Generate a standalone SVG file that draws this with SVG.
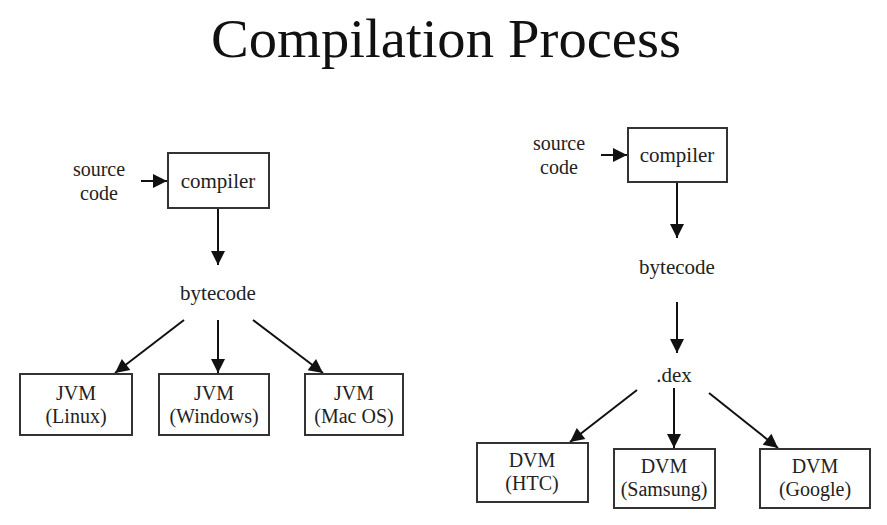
<svg xmlns="http://www.w3.org/2000/svg" width="887" height="525" viewBox="0 0 887 525">
<defs>
<marker id="ahb" viewBox="0 0 10 10" refX="10" refY="5" markerWidth="16" markerHeight="14" markerUnits="userSpaceOnUse" orient="auto">
<path d="M0,0 L10,5 L0,10 Z" fill="#111"/>
</marker>
</defs>
<style>
text{font-family:'Liberation Serif','Times New Roman','DejaVu Serif',serif}
.t{font-size:20px;fill:#222;text-anchor:middle}
.m{font-size:21px}
.box{fill:#fff;stroke:#333;stroke-width:2}
.c{stroke:#111;stroke-width:2;fill:none;marker-end:url(#ahb)}
.title{font-size:54px;fill:#111;text-anchor:middle}
</style>
<rect width="887" height="525" fill="#fff"/>
<text class="title" x="446" y="57" textLength="470" lengthAdjust="spacingAndGlyphs">Compilation Process</text>

<g id="connectors">
<line class="c" x1="141" y1="181" x2="167" y2="181"/>
<line class="c" x1="218" y1="208" x2="218" y2="265"/>
<line class="c" x1="184" y1="320" x2="115" y2="373"/>
<line class="c" x1="218" y1="320" x2="218" y2="373"/>
<line class="c" x1="253" y1="320" x2="323" y2="373"/>
<line class="c" x1="601" y1="155" x2="627" y2="155"/>
<line class="c" x1="677" y1="183" x2="677" y2="238"/>
<line class="c" x1="677" y1="302" x2="677" y2="353"/>
<line class="c" x1="637" y1="390" x2="570" y2="442"/>
<line class="c" x1="674" y1="388" x2="674" y2="448"/>
<line class="c" x1="709" y1="393" x2="778" y2="448"/>
</g>

<g id="src1"><text class="t" x="99" y="176">source</text><text class="t" x="99" y="200">code</text></g>
<g id="compiler1"><rect class="box" x="168" y="153" width="101" height="55"/><text class="t m" x="218" y="188">compiler</text></g>
<g id="bytecode1"><text class="t m" x="218" y="300">bytecode</text></g>
<g id="jvm-linux"><rect class="box" x="20" y="374" width="112" height="61"/><text class="t" x="76" y="400">JVM</text><text class="t" x="76" y="423">(Linux)</text></g>
<g id="jvm-windows"><rect class="box" x="159" y="374" width="110" height="61"/><text class="t" x="214" y="400">JVM</text><text class="t" x="214" y="423">(Windows)</text></g>
<g id="jvm-mac"><rect class="box" x="305" y="374" width="98" height="61"/><text class="t" x="354" y="400">JVM</text><text class="t" x="354" y="423">(Mac OS)</text></g>

<g id="src2"><text class="t" x="559" y="150">source</text><text class="t" x="559" y="174">code</text></g>
<g id="compiler2"><rect class="box" x="628" y="128" width="99" height="54"/><text class="t m" x="677" y="162">compiler</text></g>
<g id="bytecode2"><text class="t m" x="677" y="274">bytecode</text></g>
<g id="dex"><text class="t m" x="674" y="382">.dex</text></g>
<g id="dvm-htc"><rect class="box" x="477" y="443" width="111" height="59"/><text class="t" x="532" y="467">DVM</text><text class="t" x="532" y="490">(HTC)</text></g>
<g id="dvm-samsung"><rect class="box" x="614" y="449" width="101" height="59"/><text class="t" x="664" y="473">DVM</text><text class="t" x="664" y="496">(Samsung)</text></g>
<g id="dvm-google"><rect class="box" x="760" y="449" width="110" height="59"/><text class="t" x="815" y="473">DVM</text><text class="t" x="815" y="496">(Google)</text></g>
</svg>
